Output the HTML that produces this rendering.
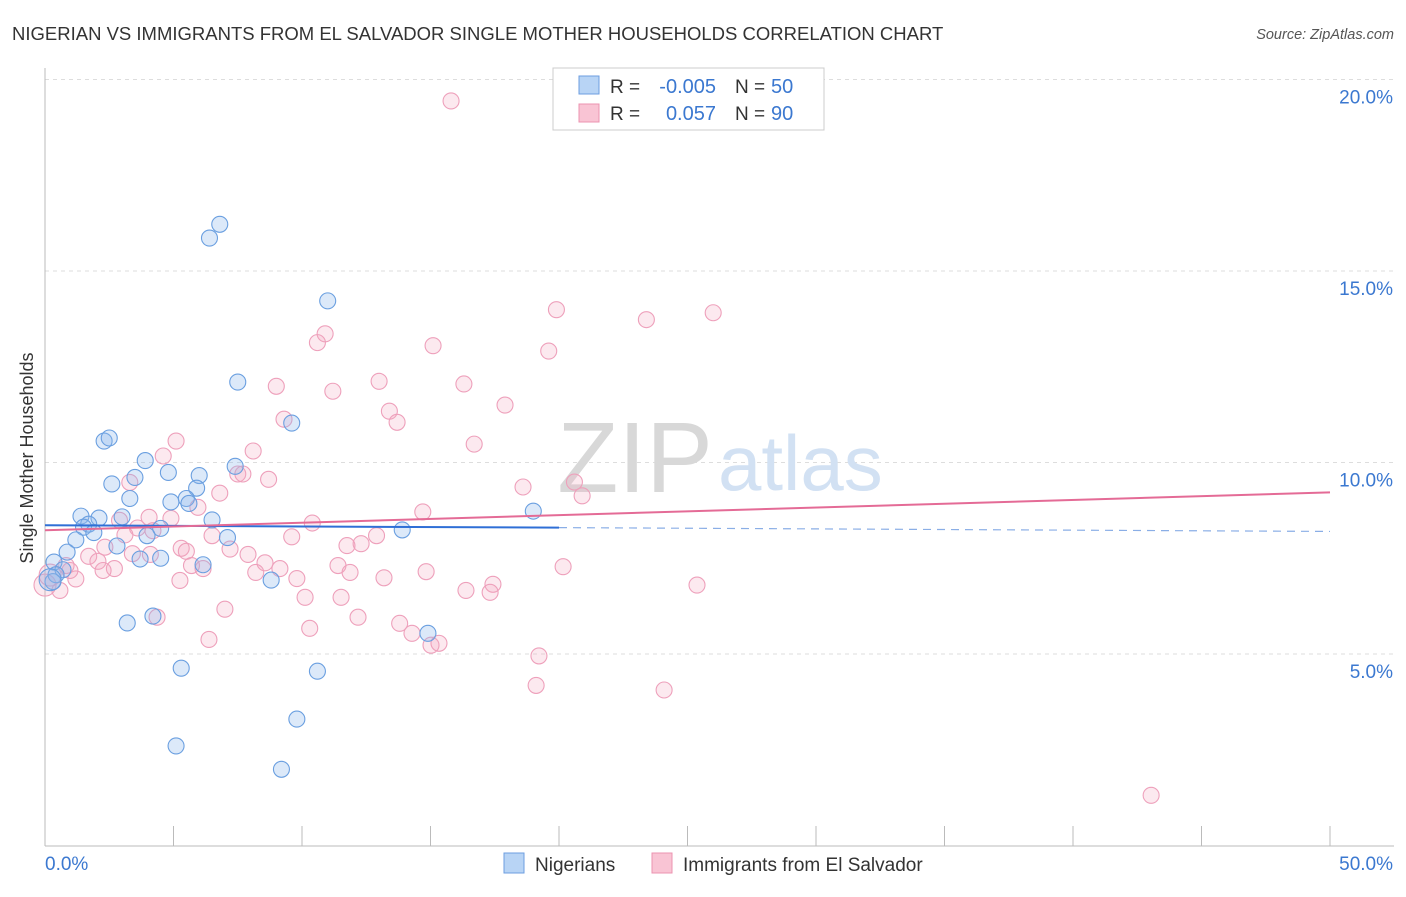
<!DOCTYPE html>
<html><head><meta charset="utf-8"><style>
body{margin:0;background:#fff;font-family:"Liberation Sans",sans-serif;}
svg text{font-family:"Liberation Sans",sans-serif;}
</style></head><body>
<svg id="chart" width="1406" height="892" xmlns="http://www.w3.org/2000/svg">
<text x="12" y="40" font-size="18.5" fill="#333">NIGERIAN VS IMMIGRANTS FROM EL SALVADOR SINGLE MOTHER HOUSEHOLDS CORRELATION CHART</text>
<text x="1394" y="39" font-size="14.5" fill="#555" text-anchor="end" font-style="italic">Source: ZipAtlas.com</text>
<text x="33" y="458" font-size="18" fill="#333" text-anchor="middle" transform="rotate(-90 33 458)">Single Mother Households</text>
<g id="grid"></g>
<g id="axes"></g>
<text x="635" y="492" font-size="100" fill="#d8d8d8" text-anchor="middle" font-family="Liberation Serif">ZIP</text>
<text x="718" y="490" font-size="78" fill="#d2e1f3">atlas</text>
<g id="marks"></g>
<g>
<rect x="553" y="68" width="271" height="62" fill="#fff" stroke="#ccc"/>
<rect x="579" y="76" width="20" height="18" fill="#b8d4f5" stroke="#6c9ee0"/>
<rect x="579" y="104" width="20" height="18" fill="#f9c4d4" stroke="#ec93b0"/>
<text x="610" y="93" font-size="19" fill="#333">R =</text>
<text x="716" y="93" font-size="20" fill="#3b78d0" text-anchor="end">-0.005</text>
<text x="735" y="93" font-size="19" fill="#333">N =</text>
<text x="771" y="93" font-size="20" fill="#3b78d0">50</text>
<text x="610" y="120" font-size="19" fill="#333">R =</text>
<text x="716" y="120" font-size="20" fill="#3b78d0" text-anchor="end">0.057</text>
<text x="735" y="120" font-size="19" fill="#333">N =</text>
<text x="771" y="120" font-size="20" fill="#3b78d0">90</text>
</g>
<g>
<rect x="504" y="853" width="20" height="20" fill="#b8d4f5" stroke="#6c9ee0"/>
<text x="535" y="871" font-size="19" fill="#333">Nigerians</text>
<rect x="652" y="853" width="20" height="20" fill="#f9c4d4" stroke="#ec93b0"/>
<text x="683" y="871" font-size="19" fill="#333">Immigrants from El Salvador</text>
</g>
</svg>
<script>
const yTicks=[5,10,15,20];
const yTickLabels=["5.0%","10.0%","15.0%","20.0%"];
const xTickLabels=["0.0%","50.0%"];
const blueX=[6.4,6.8,11.0,7.5,9.6,2.3,2.5,3.9,3.5,4.8,6.0,7.4,2.6,5.9,3.3,4.9,5.5,5.6,1.4,2.1,3.0,6.5,1.7,1.5,4.5,3.97,1.9,1.2,2.8,0.86,7.1,13.9,19.0,3.7,4.5,0.35,0.7,0.43,0.31,6.15,8.8,3.2,4.2,14.9,5.3,10.6,9.8,5.1,9.2,0.2];
const blueY=[15.86,16.22,14.22,12.1,11.03,10.56,10.64,10.05,9.61,9.74,9.66,9.9,9.44,9.33,9.06,8.97,9.06,8.93,8.6,8.55,8.58,8.5,8.39,8.31,8.28,8.09,8.17,7.98,7.82,7.66,8.04,8.24,8.73,7.48,7.5,7.4,7.2,7.07,6.89,7.33,6.93,5.81,5.99,5.54,4.63,4.55,3.3,2.6,1.99,6.94];
const pinkX=[15.8,19.9,23.4,26.0,10.9,10.6,15.1,19.6,9.0,11.2,13.0,16.3,17.9,13.4,13.7,9.3,5.1,16.7,4.6,8.1,7.5,8.7,7.7,3.3,6.8,18.6,20.6,20.9,5.95,14.7,4.05,2.9,4.9,10.4,3.6,4.2,6.5,9.6,12.9,12.3,11.75,7.2,2.33,5.3,5.5,7.9,4.1,3.4,1.7,2.06,0.82,2.7,5.7,6.15,8.56,9.14,11.4,11.87,14.83,20.16,1.2,2.26,8.2,9.8,13.19,16.38,17.43,17.32,25.37,10.12,11.52,7.0,4.36,12.18,13.8,14.28,10.3,6.38,15.02,15.33,19.22,19.11,24.09,43.04,0.0,0.2,0.97,0.58,3.11,5.25];
const pinkY=[19.44,13.99,13.73,13.91,13.36,13.13,13.05,12.91,11.99,11.86,12.12,12.05,11.5,11.34,11.05,11.13,10.56,10.48,10.17,10.3,9.7,9.56,9.7,9.48,9.2,9.36,9.49,9.13,8.83,8.71,8.57,8.49,8.54,8.42,8.29,8.22,8.09,8.06,8.09,7.88,7.83,7.74,7.79,7.76,7.68,7.6,7.6,7.62,7.55,7.42,7.31,7.23,7.31,7.23,7.38,7.23,7.31,7.13,7.15,7.28,6.96,7.18,7.13,6.97,6.99,6.66,6.82,6.61,6.8,6.48,6.48,6.17,5.96,5.96,5.8,5.54,5.67,5.38,5.23,5.28,4.95,4.18,4.06,1.31,6.8,7.06,7.18,6.66,8.11,6.92];
const blueTrend=[[0,8.36],[20,8.3],[50,8.2]];
const pinkTrend=[[0,8.23],[50,9.22]];
const NS="http://www.w3.org/2000/svg";
const X0=45,X1=1330,Y0=845.5,PX=38.3;
function sx(v){return X0+v/50*(X1-X0);}
function sy(v){return Y0-v*PX;}
function mk(t,a,p){const e=document.createElementNS(NS,t);for(const k in a)e.setAttribute(k,a[k]);p.appendChild(e);return e;}
const grid=document.getElementById('grid'),axes=document.getElementById('axes'),marks=document.getElementById('marks');
yTicks.forEach((t,i)=>{const l=mk('line',{x1:X0,x2:1394,y1:sy(t),y2:sy(t),stroke:'#ddd','stroke-dasharray':'4,4'},grid);


const tx=mk('text',{x:1393,y:sy(t)+24,'font-size':19,fill:'#3b78d0','text-anchor':'end'},axes);tx.textContent=yTickLabels[i];

});
const ax=mk('line',{x1:X0,x2:X0,y1:68,y2:846,stroke:'#bbb'},axes);


const bx=mk('line',{x1:X0,x2:1394,y1:846,y2:846,stroke:'#bbb'},axes);


for(let i=0;i<=10;i++){const t=mk('line',{x1:sx(i*5),x2:sx(i*5),y1:826,y2:846,stroke:'#bbb'},axes);

}
[[0,'start',45],[50,'end',1393]].forEach((d,i)=>{const t=mk('text',{x:d[2],y:870,'font-size':19,fill:'#3b78d0','text-anchor':d[1]},axes);t.textContent=xTickLabels[i];

});
pinkX.forEach((v,i)=>{const c=mk('circle',{cx:sx(v),cy:sy(pinkY[i]),r:i>=84&&i<86?11:8,fill:'rgba(244,166,192,0.25)',stroke:'#eea0bb','stroke-width':1.1},marks);

});
blueX.forEach((v,i)=>{const c=mk('circle',{cx:sx(v),cy:sy(blueY[i]),r:i==49?11:8,fill:'rgba(140,182,236,0.3)',stroke:'#6a9fe0','stroke-width':1.1},marks);

});
let l1=mk('line',{x1:sx(blueTrend[0][0]),y1:sy(blueTrend[0][1]),x2:sx(blueTrend[1][0]),y2:sy(blueTrend[1][1]),stroke:'#2f6fd6','stroke-width':2},marks);


let l2=mk('line',{x1:sx(blueTrend[1][0]),y1:sy(blueTrend[1][1]),x2:sx(blueTrend[2][0]),y2:sy(blueTrend[2][1]),stroke:'#8aaee6','stroke-width':1.2,'stroke-dasharray':'8,6'},marks);


let l3=mk('line',{x1:sx(pinkTrend[0][0]),y1:sy(pinkTrend[0][1]),x2:sx(pinkTrend[1][0]),y2:sy(pinkTrend[1][1]),stroke:'#e46b96','stroke-width':2},marks);


</script>
</body></html>
